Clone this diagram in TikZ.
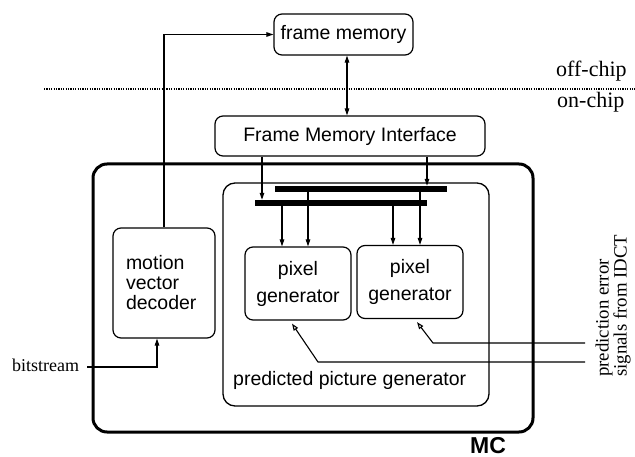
\documentclass[tikz,border=0pt]{standalone}
\usepackage{fontspec}
\setmainfont{Liberation Serif}
\setsansfont{Liberation Sans}
\usetikzlibrary{arrows.meta}
\begin{document}
\begin{tikzpicture}[x=1pt,y=-1pt,
  box/.style={draw, line width=1.2pt, rounded corners=8pt, inner sep=0pt,
    font=\sffamily\fontsize{19.5}{20}\selectfont},
  pixbox/.style={box, minimum width=106pt, minimum height=73pt, align=center,
    font=\sffamily\fontsize{19.5}{27}\selectfont},
  arr/.style={line width=1.1pt, -{Triangle[length=7pt,width=4.5pt]}},
  biarr/.style={line width=1.1pt, {Triangle[length=7pt,width=4.5pt]}-{Triangle[length=7pt,width=4.5pt]}},
  oarr/.style={line width=1.1pt, -{Triangle[open,length=7pt,width=5pt]}},
  bus/.style={fill, inner sep=0pt, minimum height=6pt},
  serifl/.style={inner sep=0pt, anchor=base west, font=\fontsize{22}{22}\selectfont}]
\useasboundingbox (0,0) rectangle (635,457);

% enclosing blocks
\node[draw, line width=3pt, rounded corners=14pt, minimum width=440pt,
      minimum height=268pt, inner sep=0pt] (mc) at (313,298) {};
\node[draw, line width=1.3pt, rounded corners=12pt, minimum width=266pt,
      minimum height=223pt, inner sep=0pt] (ppg) at (356,294.5) {};

% functional blocks
\node[box, minimum width=139pt, minimum height=41pt] (fm) at (343.5,34.5) {frame memory};
\node[box, minimum width=270pt, minimum height=40pt] (fmi) at (350,136) {Frame Memory Interface};
\node[box, minimum width=102pt, minimum height=110pt, text width=76pt, align=left,
      inner xsep=13pt] (mvd) at (164,283) {motion\\vector\\decoder};
\node[pixbox] (pgL) at (298,283.5) {pixel\\generator};
\node[pixbox] (pgR) at (410,282) {pixel\\generator};

% internal buses
\node[bus, minimum width=172pt] (busA) at (361,189) {};
\node[bus, minimum width=172pt] (busB) at (341,203) {};

% column positions of the vertical links
\coordinate (cA) at (262,0);
\coordinate (cB) at (427,0);
\coordinate (c1) at (282,0);
\coordinate (c2) at (308,0);
\coordinate (c3) at (393,0);
\coordinate (c4) at (420,0);
\coordinate (cD) at (347,0);

\draw[arr] (fmi.south -| cA) -- (busB.north -| cA);
\draw[arr] (fmi.south -| cB) -- (busA.north -| cB);
\draw[arr] (busB.south -| c1) -- (pgL.north -| c1);
\draw[arr] (busA.south -| c2) -- (pgL.north -| c2);
\draw[arr] (busB.south -| c3) -- (pgR.north -| c3);
\draw[arr] (busA.south -| c4) -- (pgR.north -| c4);
\draw[biarr] (fm.south -| cD) -- (fmi.north -| cD);

% chip boundary
\coordinate (dl) at (44,89);
\coordinate (dr) at (635,89);
\draw[line width=1.2pt, dash pattern=on 1.2pt off 1.2pt] (dl) -- (dr);
\node[serifl] (off) at (556,77) {off-chip};
\node[serifl] (on) at (557,108) {on-chip};

% motion vectors to frame memory
\draw[arr] (mvd.north) |- (fm.west);

% bitstream input
\node[inner sep=0pt, anchor=base west, font=\fontsize{18}{18}\selectfont] (bs) at (12,371) {bitstream};
\coordinate (bsin) at (87,367);
\draw[arr] (bsin) -| ([xshift=-7pt]mvd.south);

% prediction error inputs
\coordinate (in1) at (585,343);
\coordinate (k1) at (433,343);
\coordinate (in2) at (585,362);
\coordinate (k2) at (318,362);
\draw[oarr] (in1) -- (k1) -- ([xshift=7pt,yshift=-3pt]pgR.south);
\draw[oarr] (in2) -- (k2) -- ([xshift=-6pt,yshift=-3pt]pgL.south);
\node[rotate=90, anchor=south west, inner sep=0pt, align=left,
      font=\fontsize{18.8}{15.5}\selectfont] (idct) at (631,377)
      {prediction error\\signals from IDCT};

% block labels
\node[inner sep=0pt, anchor=base west, font=\sffamily\fontsize{19.5}{20}\selectfont] (ppgl)
      at (233,385) {predicted picture generator};
\node[inner sep=0pt, anchor=base, font=\sffamily\bfseries\fontsize{23}{23}\selectfont] (mcl)
      at (488,453) {MC};
\end{tikzpicture}
\end{document}
